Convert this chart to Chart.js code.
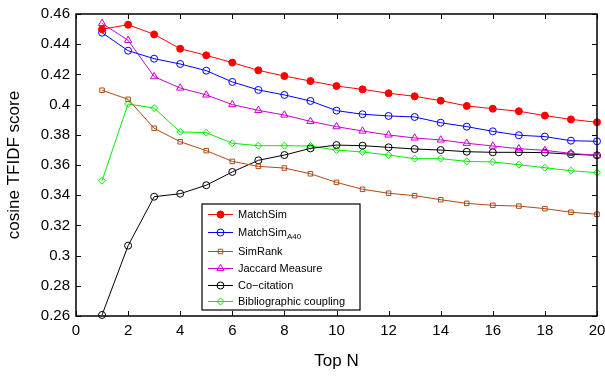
<!DOCTYPE html>
<html><head><meta charset="utf-8">
<script src="https://cdn.jsdelivr.net/npm/chart.js@4"></script>
<style>html,body{margin:0;padding:0;background:#fff}#wrap{width:605px;height:376px}</style>
</head><body><div id="wrap"><canvas id="c" width="605" height="376"></canvas></div>
<script>
const topN = [1,2,3,4,5,6,7,8,9,10,11,12,13,14,15,16,17,18,19,20];
const matchSim = [0.4499,0.4529,0.4465,0.4370,0.4326,0.4278,0.4227,0.4189,0.4156,0.4123,0.4101,0.4075,0.4055,0.4026,0.3991,0.3973,0.3956,0.3927,0.3902,0.3883];
const matchSimA40 = [0.4476,0.4357,0.4304,0.4269,0.4225,0.4150,0.4097,0.4064,0.4024,0.3960,0.3936,0.3925,0.3918,0.3880,0.3854,0.3823,0.3797,0.3788,0.3761,0.3757];
const simRank = [0.4095,0.4035,0.3843,0.3754,0.3695,0.3624,0.3591,0.3580,0.3542,0.3485,0.3439,0.3413,0.3397,0.3370,0.3346,0.3333,0.3328,0.3311,0.3287,0.3274];
const jaccard = [0.4538,0.4426,0.4185,0.4110,0.4064,0.4000,0.3962,0.3931,0.3889,0.3854,0.3825,0.3799,0.3779,0.3766,0.3744,0.3726,0.3708,0.3697,0.3677,0.3664];
const coCitation = [0.2607,0.3066,0.3390,0.3410,0.3466,0.3554,0.3631,0.3666,0.3710,0.3732,0.3728,0.3717,0.3706,0.3699,0.3688,0.3684,0.3684,0.3682,0.3671,0.3664];
const biblio = [0.3496,0.4004,0.3977,0.3819,0.3814,0.3744,0.3728,0.3728,0.3726,0.3699,0.3686,0.3666,0.3642,0.3642,0.3624,0.3620,0.3602,0.3582,0.3562,0.3549];
const seriesNames = ['MatchSim','MatchSim','SimRank','Jaccard Measure','Co\u2212citation','Bibliographic coupling'];
const seriesSubs = ['','A40','','','',''];
const xTicks = [0,2,4,6,8,10,12,14,16,18,20];
const yTicks = [0.26,0.28,0.30,0.32,0.34,0.36,0.38,0.40,0.42,0.44,0.46];

const FONT = '"Liberation Sans", Arial, Helvetica, sans-serif';
function mk(data, i, color, style, fill) {
  return {
    label: seriesNames[i], sub: seriesSubs[i],
    data: topN.map((x, k) => ({x, y: data[k]})),
    borderColor: color, backgroundColor: fill ? color : 'rgba(0,0,0,0)',
    pointBorderColor: color, pointBackgroundColor: fill ? color : 'rgba(0,0,0,0)',
    pointStyle: style, pointRadius: style === 'triangle' ? 4.2 : (style === 'rect' ? 3.2 : 3.5),
    pointBorderWidth: 1, borderWidth: 1, tension: 0, clip: false
  };
}
const datasets = [
  mk(matchSim, 0, '#ff0000', 'circle', true),
  mk(matchSimA40, 1, '#0000ff', 'circle', false),
  mk(simRank, 2, '#b04a12', 'rect', false),
  mk(jaccard, 3, '#cc00cc', 'triangle', false),
  mk(coCitation, 4, '#000000', 'circle', false),
  mk(biblio, 5, '#00ee00', 'rectRot', false)
];

const frame = {
  id: 'frame',
  afterDraw(chart) {
    const ctx = chart.ctx, a = chart.chartArea, xs = chart.scales.x, ys = chart.scales.y;
    ctx.save();
    ctx.strokeStyle = '#000'; ctx.lineWidth = 1;
    const L = 5;
    ctx.beginPath();
    xTicks.forEach(v => { const p = Math.round(xs.getPixelForValue(v)) + 0.5;
      ctx.moveTo(p, a.bottom); ctx.lineTo(p, a.bottom - L);
      ctx.moveTo(p, a.top); ctx.lineTo(p, a.top + L); });
    yTicks.forEach(v => { const p = Math.round(ys.getPixelForValue(v)) + 0.5;
      ctx.moveTo(a.left, p); ctx.lineTo(a.left + L, p);
      ctx.moveTo(a.right, p); ctx.lineTo(a.right - L, p); });
    ctx.stroke();
    ctx.lineWidth = 1.5;
    ctx.strokeRect(a.left, a.top, a.right - a.left, a.bottom - a.top);
    // legend
    const bx = 202, by = 204, bw = 158, bh = 106;
    ctx.fillStyle = '#fff'; ctx.fillRect(bx, by, bw, bh);
    ctx.strokeStyle = '#000';
    ctx.lineWidth = 1.2; ctx.strokeRect(bx, by, bw, bh);
    const rowsY = [214, 232, 251, 268, 285, 301];
    chart.data.datasets.forEach((ds, i) => {
      const y = rowsY[i];
      ctx.strokeStyle = ds.borderColor; ctx.lineWidth = 1;
      ctx.beginPath(); ctx.moveTo(208, y + 0.5); ctx.lineTo(233, y + 0.5); ctx.stroke();
      ctx.fillStyle = ds.pointBackgroundColor; ctx.strokeStyle = ds.borderColor; ctx.lineWidth = 1;
      Chart.helpers.drawPoint(ctx, {pointStyle: ds.pointStyle, radius: ds.pointRadius, borderWidth: 1}, 220.5, y + 0.5);
      ctx.fillStyle = '#000';
      ctx.font = '11px ' + FONT; ctx.textBaseline = 'middle'; ctx.textAlign = 'left';
      ctx.fillText(ds.label, 238, y + 1);
      if (ds.sub) {
        const w = ctx.measureText(ds.label).width;
        ctx.font = '8px ' + FONT;
        ctx.fillText(ds.sub, 238 + w, y + 5);
      }
    });
    ctx.restore();
  }
};

new Chart(document.getElementById('c'), {
  type: 'line',
  data: { datasets },
  options: {
    responsive: false, animation: false,
    layout: { padding: { top: 14, right: 8, left: 4, bottom: 0 } },
    plugins: { legend: { display: false }, tooltip: { enabled: false } },
    elements: { line: { fill: false } },
    scales: {
      x: {
        type: 'linear', min: 0, max: 20,
        afterFit: s => { s.height = 60; s.paddingLeft = 0; s.paddingRight = 0; },
        afterBuildTicks: s => { s.ticks = xTicks.map(v => ({value: v})); },
        grid: { display: false, drawTicks: false },
        border: { display: false },
        ticks: { font: { family: FONT, size: 15 }, color: '#000', padding: 6, maxRotation: 0 },
        title: { display: true, text: 'Top N', font: { family: FONT, size: 17 }, color: '#000', padding: { top: 6 } }
      },
      y: {
        type: 'linear', min: 0.26, max: 0.46,
        afterFit: s => { s.width = 72; s.paddingTop = 0; s.paddingBottom = 0; },
        afterBuildTicks: s => { s.ticks = yTicks.map(v => ({value: v})); },
        grid: { display: false, drawTicks: false },
        border: { display: false },
        ticks: { font: { family: FONT, size: 15 }, color: '#000', padding: 6,
          callback: v => String(Number(v.toFixed(2))) },
        title: { display: true, text: 'cosine TFIDF score', font: { family: FONT, size: 17 }, color: '#000', padding: 0 }
      }
    }
  },
  plugins: [frame]
});
</script>
</body></html>
